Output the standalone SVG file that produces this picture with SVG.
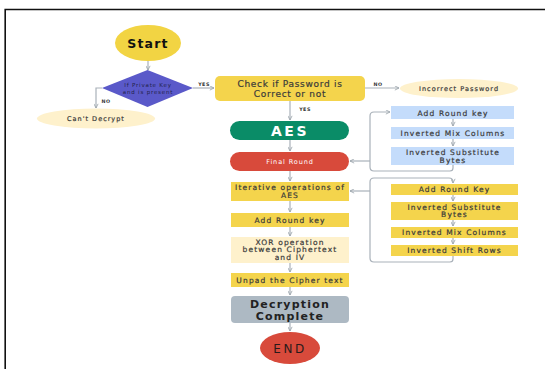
<svg xmlns="http://www.w3.org/2000/svg" width="545" height="369" viewBox="0 0 545 369">
<defs>
<marker id="ah" viewBox="0 0 6 6" refX="5.5" refY="3" markerWidth="5" markerHeight="5" orient="auto" markerUnits="userSpaceOnUse">
<path d="M0.5,0.5 L5.5,3 L0.5,5.5" fill="none" stroke="#9aa3ab" stroke-width="1"/>
</marker>
</defs>
<style>
text{font-family:"DejaVu Sans","Liberation Sans",sans-serif;fill:#3a3a3a;text-anchor:middle}
.w{stroke:#3a3a3a;stroke-width:0.2px}
.c{fill:none;stroke:#a9b1b9;stroke-width:1.2}
.y{fill:#f4d44c}
.cr{fill:#fef1cc}
.bl{fill:#c4dcfb}
.s{font-size:7.5px;letter-spacing:1.15px;stroke:#3a3a3a;stroke-width:0.2px}
.lbl{font-size:4.8px;font-weight:bold;letter-spacing:0.5px;fill:#333}
</style>
<rect width="545" height="369" fill="#fff"/>
<path d="M5.2,369 L5.2,9.5 L545,9.5" fill="none" stroke="#111" stroke-width="1.6"/>

<g id="connectors">
<path class="c" d="M148,61 L148,70" marker-end="url(#ah)"/>
<path class="c" d="M102,88 L96,88 L96,108" marker-end="url(#ah)"/>
<path class="c" d="M193,88 L214,88" marker-end="url(#ah)"/>
<path class="c" d="M365,88 L399,88" marker-end="url(#ah)"/>
<path class="c" d="M290,101 L290,120" marker-end="url(#ah)"/>
<path class="c" d="M290,140 L290,151" marker-end="url(#ah)"/>
<path class="c" d="M290,171 L290,181" marker-end="url(#ah)"/>
<path class="c" d="M290,201 L290,212" marker-end="url(#ah)"/>
<path class="c" d="M290,227 L290,236" marker-end="url(#ah)"/>
<path class="c" d="M290,263 L290,272" marker-end="url(#ah)"/>
<path class="c" d="M290,287 L290,295" marker-end="url(#ah)"/>
<path class="c" d="M290,323 L290,331" marker-end="url(#ah)"/>
<path class="c" d="M453,119 L453,126" marker-end="url(#ah)"/>
<path class="c" d="M453,139 L453,146" marker-end="url(#ah)"/>
<path class="c" d="M453,165 L453,168 Q453,171 450,171 L374,171 Q370,171 370,167 L370,116 Q370,112 374,112 L390,112" marker-end="url(#ah)"/>
<path class="c" d="M370,161 L350,161" marker-end="url(#ah)"/>
<path class="c" d="M453,195 L453,201" marker-end="url(#ah)"/>
<path class="c" d="M453,220 L453,226" marker-end="url(#ah)"/>
<path class="c" d="M453,238 L453,244" marker-end="url(#ah)"/>
<path class="c" d="M453,256 L453,259 Q453,262 450,262 L374,262 Q370,262 370,258 L370,182 Q370,178 374,178 L449,178 Q453,178 453,182 L453,183" marker-end="url(#ah)"/>
<path class="c" d="M370,191 L350,191" marker-end="url(#ah)"/>
<text class="lbl" x="204" y="86">YES</text>
<text class="lbl" x="106" y="103">NO</text>
<text class="lbl" x="378" y="86">NO</text>
<text class="lbl" x="305" y="111">YES</text>
</g>

<g id="start">
<ellipse cx="148" cy="43" rx="33" ry="18" fill="#f2d443"/>
<text x="148" y="48" style="font-size:12.5px;font-weight:bold;letter-spacing:1.2px;fill:#111">Start</text>
</g>
<g id="private-key">
<polygon points="147.5,70 193,88 147.5,107 102,88" fill="#5a59c9"/>
<text x="148" y="87" style="font-size:5.5px;letter-spacing:0.8px;fill:#23234a">If Private Key</text>
<text x="148" y="94" style="font-size:5.5px;letter-spacing:0.8px;fill:#23234a">and is present</text>
</g>
<g id="cant-decrypt">
<ellipse cx="96" cy="118.5" rx="59" ry="10" class="cr"/>
<text class="w" x="96" y="121" style="font-size:6.5px;letter-spacing:1px">Can't Decrypt</text>
</g>
<g id="check-password">
<rect x="215" y="76" width="150" height="25" rx="5" class="y"/>
<text class="w" x="290" y="87" style="font-size:9px;letter-spacing:0.7px">Check if Password is</text>
<text class="w" x="290" y="97" style="font-size:9px;letter-spacing:0.7px">Correct or not</text>
</g>
<g id="incorrect-password">
<ellipse cx="459" cy="88.5" rx="59" ry="9.5" class="cr"/>
<text class="w" x="459" y="91" style="font-size:6.5px;letter-spacing:1.05px">Incorrect Password</text>
</g>
<g id="aes">
<rect x="230" y="121" width="119" height="19" rx="9.5" fill="#0a8c67"/>
<text x="290" y="135.5" style="font-size:14px;font-weight:bold;letter-spacing:2.5px;fill:#fff">AES</text>
</g>
<g id="final-round">
<rect x="230" y="152" width="119" height="19" rx="9.5" fill="#d84a3b"/>
<text x="290" y="164" style="font-size:6.5px;letter-spacing:0.9px;fill:#fff">Final Round</text>
</g>
<g id="blue-add-round-key">
<rect x="391" y="106" width="123" height="13" class="bl"/>
<text class="s" x="453" y="115.5">Add Round key</text>
</g>
<g id="blue-inv-mix-columns">
<rect x="391" y="127" width="123" height="12" class="bl"/>
<text class="s" x="453" y="136">Inverted Mix Columns</text>
</g>
<g id="blue-inv-sub-bytes">
<rect x="391" y="147" width="123" height="18" class="bl"/>
<text class="s" x="453" y="155">Inverted Substitute</text>
<text class="s" x="453" y="163">Bytes</text>
</g>
<g id="iterative">
<rect x="231" y="182" width="118" height="19" class="y"/>
<text class="s" x="290" y="190">Iterative operations of</text>
<text class="s" x="290" y="197.5">AES</text>
</g>
<g id="add-round-key">
<rect x="231" y="213" width="118" height="14" class="y"/>
<text class="s" x="290" y="222.5">Add Round key</text>
</g>
<g id="xor">
<rect x="231" y="237" width="118" height="26" class="cr"/>
<text class="s" x="290" y="244.5">XOR operation</text>
<text class="s" x="290" y="252">between Ciphertext</text>
<text class="s" x="290" y="259.5">and IV</text>
</g>
<g id="unpad">
<rect x="231" y="273" width="118" height="14" class="y"/>
<text class="s" x="290" y="282.5">Unpad the Cipher text</text>
</g>
<g id="decryption-complete">
<rect x="231" y="296" width="118" height="27" rx="4" fill="#adb9c3"/>
<text x="290" y="308" style="font-size:11px;font-weight:bold;letter-spacing:1.2px;fill:#222">Decryption</text>
<text x="290" y="319.5" style="font-size:11px;font-weight:bold;letter-spacing:1.2px;fill:#222">Complete</text>
</g>
<g id="end">
<ellipse cx="290" cy="348" rx="30" ry="16" fill="#d84a3b"/>
<text x="290" y="352.5" style="font-size:12px;letter-spacing:2.5px;fill:#2a1a1a">END</text>
</g>
<g id="y-add-round-key">
<rect x="391" y="184" width="127" height="11" class="y"/>
<text class="s" x="454.5" y="192">Add Round Key</text>
</g>
<g id="y-inv-sub-bytes">
<rect x="391" y="202" width="127" height="18" class="y"/>
<text class="s" x="454.5" y="209.5">Inverted Substitute</text>
<text class="s" x="454.5" y="217">Bytes</text>
</g>
<g id="y-inv-mix-columns">
<rect x="391" y="227" width="127" height="11" class="y"/>
<text class="s" x="454.5" y="235">Inverted Mix Columns</text>
</g>
<g id="y-inv-shift-rows">
<rect x="391" y="245" width="127" height="11" class="y"/>
<text class="s" x="454.5" y="253">Inverted Shift Rows</text>
</g>
</svg>
